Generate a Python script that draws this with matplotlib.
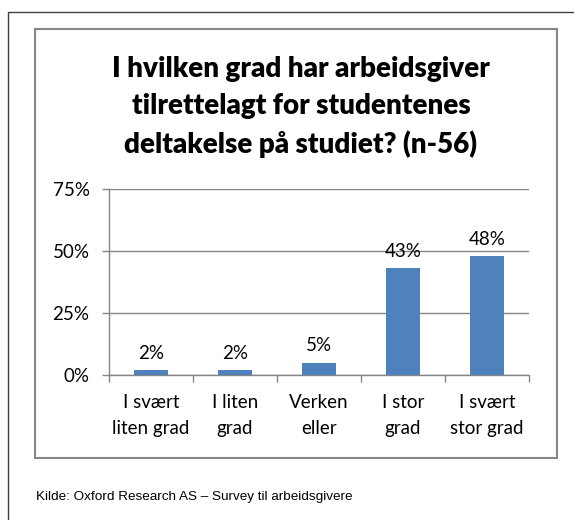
import matplotlib.pyplot as plt
from matplotlib.patches import Rectangle

# Survey data
categories = ["I svært\nliten grad", "I liten\ngrad", "Verken\neller", "I stor\ngrad", "I svært\nstor grad"]
values = [2, 2, 5, 43, 48]
yticks = [0, 25, 50, 75]
title = "I hvilken grad har arbeidsgiver\ntilrettelagt for studentenes\ndeltakelse på studiet? (n-56)"
source = "Kilde: Oxford Research AS \u2013 Survey til arbeidsgivere"

W, H = 574, 520
fig = plt.figure(figsize=(W / 100, H / 100), dpi=100)

# Outer frame (only left and top visible) and inner chart box
fig.patches.append(Rectangle((8 / W, -0.1), 1.2, 1 - 12 / H + 0.1, transform=fig.transFigure,
                             fill=False, edgecolor="#404040", linewidth=1.0))
fig.patches.append(Rectangle((35 / W, 1 - 458 / H), 522 / W, 429 / H, transform=fig.transFigure,
                             fill=False, edgecolor="#868686", linewidth=1.5))

ax = fig.add_axes([109 / W, 1 - 375 / H, 420 / W, 186 / H])
x = list(range(len(categories)))
ax.bar(x, values, width=0.4, color="#4F81BD", zorder=3)
ax.set_xlim(-0.5, len(categories) - 0.5)
ax.set_ylim(0, 75)

for xi, v in zip(x, values):
    ax.annotate(f"{v}%", (xi, v), xytext=(0, 6), textcoords="offset points",
                ha="center", va="bottom", fontsize=13.5, family="Lato")

ax.set_yticks(yticks)
ax.set_yticklabels([f"{t}%" for t in yticks], fontsize=13.5, family="Lato")
ax.yaxis.grid(True, color="#868686", linewidth=1.0, zorder=0)
ax.tick_params(axis="y", length=5, width=1, color="#868686", pad=9)

ax.set_xticks(x)
ax.set_xticklabels(categories, fontsize=13.5, family="Lato", linespacing=1.6)
ax.set_xticks([i + 0.5 for i in range(-1, len(categories))], minor=True)
ax.tick_params(axis="x", which="major", length=0, pad=14)
ax.tick_params(axis="x", which="minor", length=5, width=1, color="#868686")

for side in ["top", "right"]:
    ax.spines[side].set_visible(False)
for side in ["left", "bottom"]:
    ax.spines[side].set_color("#868686")
    ax.spines[side].set_linewidth(1.0)

fig.text(301 / W, 1 - 107 / H, title, ha="center", va="center", fontsize=20,
         fontweight="heavy", family="Lato", linespacing=1.5)
fig.text(36 / W, 1 - 497 / H, source, ha="left", va="center", fontsize=9.7,
         family="Liberation Sans")

fig.savefig("out.png", dpi=100)
